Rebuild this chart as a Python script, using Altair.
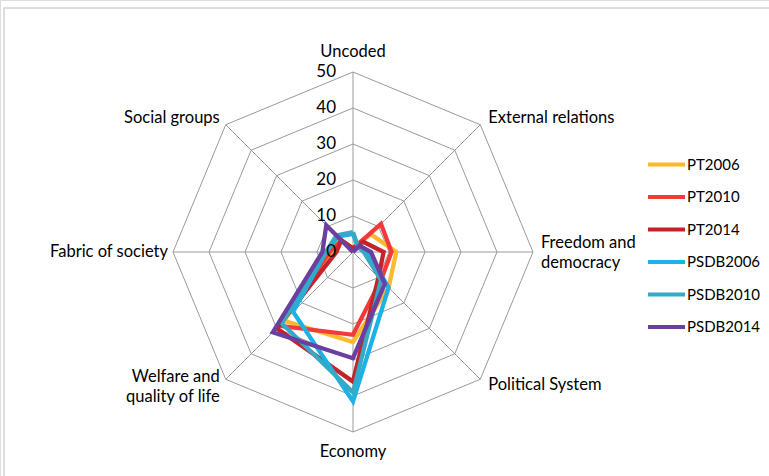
import altair as alt
import pandas as pd

categories = ["Uncoded", "External relations", "Freedom and democracy", "Political System",
              "Economy", "Welfare and quality of life", "Fabric of society", "Social groups"]
label_text = ["Uncoded", "External relations", "Freedom and\ndemocracy", "Political System",
              "Economy", "Welfare and\nquality of life", "Fabric of society", "Social groups"]
series_names = ["PT2006", "PT2010", "PT2014", "PSDB2006", "PSDB2010", "PSDB2014"]
pt2006 = [1, 7, 12, 14, 25, 27, 6, 5]
pt2010 = [1, 11, 10.7, 11, 23, 29, 6.5, 4.5]
pt2014 = [1, 4, 8.5, 10, 36, 30, 4.6, 4.6]
psdb2006 = [5, 2, 4, 14, 41.5, 23.5, 7.5, 6]
psdb2010 = [5.5, 2, 3, 11, 39, 28, 7.5, 6.5]
psdb2014 = [0, 2.5, 5, 12.5, 29.5, 31.5, 8.5, 10.5]
series_values = [pt2006, pt2010, pt2014, psdb2006, psdb2010, psdb2014]
colors = ["#FFB92E", "#F23A3A", "#C4232A", "#1BB2E8", "#35A9C6", "#6B3FA0"]
grid_levels = [10, 20, 30, 40, 50]
tick_levels = [0, 10, 20, 30, 40, 50]

FONT = "Lato"

# build tables
rows = []
for name, vals in zip(series_names, series_values):
    for i in range(len(categories) + 1):
        k = i % len(categories)
        rows.append({"series": name, "idx": k, "ord": i, "value": vals[k]})
df = pd.DataFrame(rows)

grid_rows = []
for lv in grid_levels:
    for i in range(len(categories) + 1):
        grid_rows.append({"level": lv, "idx": i % len(categories), "ord": i})
grid_df = pd.DataFrame(grid_rows)

spoke_df = pd.DataFrame({"idx": list(range(len(categories))), "r": [max(grid_levels)] * len(categories)})
tick_df = pd.DataFrame({"level": tick_levels, "label": [str(t) for t in tick_levels]})
lab_df = pd.DataFrame({"idx": list(range(len(categories))), "cat": categories, "label": label_text,
                       "r": [max(grid_levels)] * len(categories)})

xs = alt.Scale(domain=[-98.056, 115.556], nice=False, zero=False)
ys = alt.Scale(domain=[-62.222, 70], nice=False, zero=False)
X = lambda f: alt.X(f, type="quantitative", scale=xs, axis=None)
Y = lambda f: alt.Y(f, type="quantitative", scale=ys, axis=None)

frame = alt.Chart(pd.DataFrame({"a": [0]})).mark_rect(
    fill="white", stroke="#d4d4d4", strokeWidth=1.5
).encode(x=alt.value(4), x2=alt.value(800), y=alt.value(8), y2=alt.value(500))

grid = alt.Chart(grid_df).transform_calculate(
    px="datum.level * sin(datum.idx * PI / 4)",
    py="datum.level * cos(datum.idx * PI / 4)",
).mark_line(color="#9a9a9a", strokeWidth=1).encode(
    x=X("px"), y=Y("py"), detail="level:N", order="ord:Q"
)

spokes = alt.Chart(spoke_df).transform_calculate(
    px="datum.r * sin(datum.idx * PI / 4)",
    py="datum.r * cos(datum.idx * PI / 4)",
    zx="0", zy="0",
).mark_rule(color="#9a9a9a", strokeWidth=1).encode(
    x=X("zx"), y=Y("zy"), x2="px:Q", y2="py:Q"
)

lines = alt.Chart(df).transform_calculate(
    px="datum.value * sin(datum.idx * PI / 4)",
    py="datum.value * cos(datum.idx * PI / 4)",
).mark_line(strokeWidth=4.3, strokeJoin="miter", strokeMiterLimit=4).encode(
    x=X("px"), y=Y("py"),
    color=alt.Color("series:N", scale=alt.Scale(domain=series_names, range=colors),
                    sort=series_names,
                    legend=alt.Legend(title=None, orient="none", legendX=646, legendY=144,
                                      symbolType="stroke", symbolStrokeWidth=4, symbolSize=1369,
                                      labelFont=FONT, labelFontSize=15, labelColor="#000000",
                                      labelOffset=0, rowPadding=3.5)),
    order="ord:Q",
    detail="series:N",
)

ticks = alt.Chart(tick_df).transform_calculate(zx="0").mark_text(
    align="right", baseline="middle", dx=-17, font=FONT, fontSize=17, color="#000000"
).encode(x=X("zx"), y=Y("level"), text="label:N")

def lab(cats, **kw):
    return alt.Chart(lab_df).transform_filter(
        alt.FieldOneOfPredicate(field="cat", oneOf=cats)
    ).transform_calculate(
        px="datum.r * sin(datum.idx * PI / 4)",
        py="datum.r * cos(datum.idx * PI / 4)",
    ).mark_text(font=FONT, fontSize=16.5, color="#000000", lineBreak="\n", lineHeight=20,
                baseline="middle", **kw).encode(x=X("px"), y=Y("py"), text="label:N")

labels = [
    lab(["Uncoded"], align="center", dy=-20),
    lab(["Economy"], align="center", dy=20),
    lab(["External relations"], align="left", dx=8, dy=-7),
    lab(["Freedom and democracy"], align="left", dx=8, dy=-9),
    lab(["Political System"], align="left", dx=8, dy=6),
    lab(["Welfare and quality of life"], align="right", dx=-6, dy=-2),
    lab(["Fabric of society"], align="right", dx=-5, dy=0),
    lab(["Social groups"], align="right", dx=-6, dy=-7),
]

chart = alt.layer(frame, grid, spokes, lines, ticks, *labels).properties(
    width=769, height=476, autosize=alt.AutoSizeParams(type="none"), padding=0
).configure_view(stroke=None).configure(background="white")

chart.save("out.html", embed_options={"renderer": "svg", "actions": False})
